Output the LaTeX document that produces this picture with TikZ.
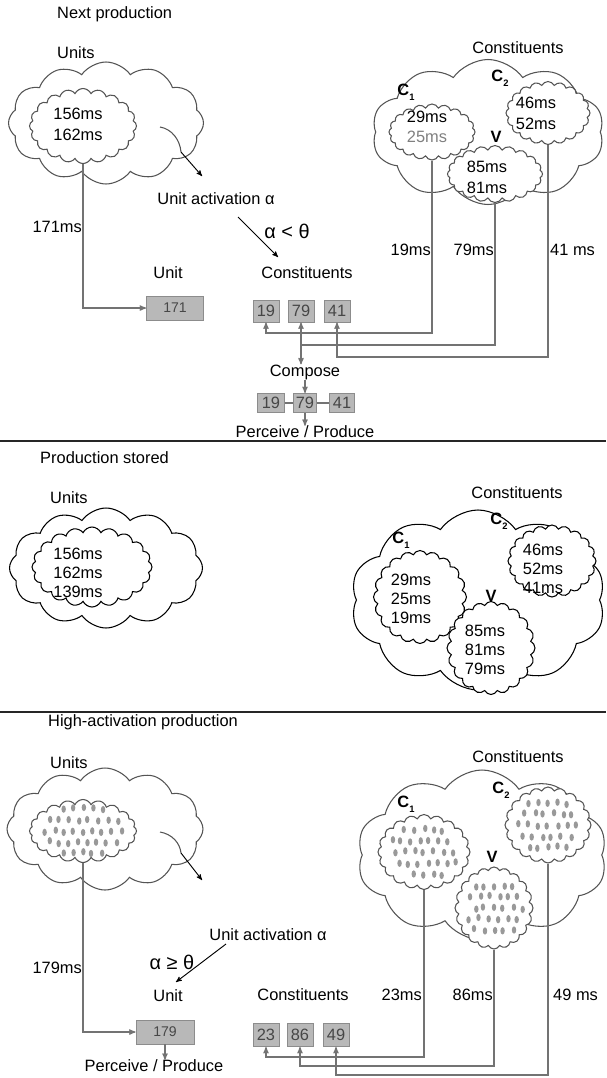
\documentclass[tikz,border=0pt]{standalone}
\usepackage{fontspec}
\setmainfont{Liberation Sans}
\usepackage{tikz}
\usetikzlibrary{shapes.symbols,arrows}

\definecolor{cloudline}{gray}{0.33}
\definecolor{linkgray}{gray}{0.45}
\definecolor{boxfill}{gray}{0.72}
\definecolor{boxedge}{gray}{0.55}
\definecolor{boxtext}{gray}{0.28}
\definecolor{dotgray}{gray}{0.6}

% constituent label with subscript
\newcommand{\clab}[1]{\textbf{C}\raisebox{-0.6ex}{\fontsize{8}{8}\selectfont\bfseries #1}}
% grey grains inside a cloud: centre x, centre y, half width, half height
\newcommand{\dotpatch}[4]{%
  \foreach \i in {-6,...,6}{
    \foreach \j in {-4,...,4}{
      \pgfmathsetmacro\dx{\i*9.5+mod(\j,2)*4+1.6*rand}
      \pgfmathsetmacro\dy{\j*11+1.6*rand}
      \pgfmathtruncatemacro\inside{((\dx/#3)*(\dx/#3)+(\dy/#4)*(\dy/#4)<1)?1:0}
      \ifnum\inside=1
        \fill[dotgray] (#1+\dx,#2+\dy) ellipse (0.066cm and 0.11cm);
      \fi
    }
  }
}

\begin{document}
\begin{tikzpicture}[
    x=0.03cm, y=-0.03cm,
    every node/.style={font=\fontsize{14}{18}\selectfont, inner sep=0pt, align=center},
    dims/.style 2 args={minimum width=#1*0.03cm, minimum height=#2*0.03cm},
    puffy/.style={cloud, cloud puffs=12, cloud puff arc=110, draw=cloudline, fill=white, line width=0.9pt},
    inner puffy/.style={cloud, cloud puffs=20, cloud puff arc=130, draw=cloudline, fill=white, line width=0.9pt},
    numbox/.style={draw=boxedge, fill=boxfill, text=boxtext, line width=0.8pt},
    link/.style={draw=linkgray, line width=1pt, ->, >=stealth'},
    plain link/.style={draw=linkgray, line width=1pt},
    pointer/.style={draw=black, line width=0.8pt, ->, >=stealth'},
    condition/.style={font=\fontsize{17}{20}\selectfont},
    divider/.style={line width=1.7pt, draw=black!85}
  ]
  \useasboundingbox (0,0) rectangle (606,1078);
  \pgfmathsetseed{7}

  % ---------------- Next production
  \node[anchor=west] (title1) at (57,14) {Next production};
  \node[anchor=west] (units1) at (57,53) {Units};
  \node[puffy, dims={195}{122}] (ucloud1) at (106,123) {};
  \node[inner puffy, dims={107}{75}] (uin1) at (83,126) {};
  \node (uval1) at (78,124) {156ms\\162ms};
  \draw[cloudline, line width=0.9pt] (160,127) .. controls (172,129) and (180,140) .. (181,152) coordinate (curl1);
  \coordinate (act1) at (202,176);
  \draw[pointer] (curl1) -- (act1);
  \node (acttext1) at (216,199) {Unit activation α};
  \coordinate (aa1) at (238,217);
  \coordinate (ab1) at (278,257);
  \draw[pointer] (aa1) -- (ab1);
  \node[condition] (cond1) at (287,231) {α < θ};
  \node (unitlbl1) at (168,273) {Unit};
  \node (conlbl1) at (307,273) {Constituents};
  \node[numbox, dims={57}{24}, font=\fontsize{12}{14}\selectfont] (u171) at (175,308) {171};
  \draw[link] (uin1.south) |- (u171.west);
  \node[anchor=east] (ms171) at (82,227) {171ms};

  \node (conhead1) at (518,48) {Constituents};
  \node[puffy, cloud puffs=10, dims={232}{145}] (ccloud1) at (488,132) {};
  \node[inner puffy, dims={86}{56}] (c1a) at (432,132) {};
  \node[inner puffy, dims={84}{63}] (c2a) at (548,113) {};
  \node[inner puffy, dims={95}{57}] (va) at (495,174) {};
  \node (c1val1) at (427,127) {29ms\\[-1pt]\textcolor{gray}{25ms}};
  \node (c2val1) at (536,113) {46ms\\52ms};
  \node (vval1) at (487,177) {85ms\\81ms};
  \node (c1lbl1) at (406,92) {\clab{1}};
  \node (c2lbl1) at (500,78) {\clab{2}};
  \node (vlbl1) at (496,137) {\textbf{V}};

  \node[numbox, dims={26}{22}] (b19) at (266,311) {19};
  \node[numbox, dims={26}{22}] (b79) at (301,311) {79};
  \node[numbox, dims={26}{22}] (b41) at (337,311) {41};
  \draw[link] (c1a.south) -- (c1a.south |- 0,333) -| (b19.south);
  \draw[link] (va.south) -- (va.south |- 0,345) -| (b79.south);
  \draw[link] (c2a.south) -- (c2a.south |- 0,357) -| (b41.south);
  \node[anchor=east] (ms19) at (431,250) {19ms};
  \node[anchor=east] (ms79) at (494,250) {79ms};
  \node[anchor=west] (ms41) at (550,250) {41 ms};

  \node (compose) at (305,372) {Compose};
  \draw[link] (b79.south |- 0,345) -- (b79.south |- compose.north);
  \node[numbox, dims={27}{19}] (b19c) at (271,403) {19};
  \node[numbox, dims={23}{19}] (b79c) at (305,403) {79};
  \node[numbox, dims={25}{19}] (b41c) at (342,403) {41};
  \draw[plain link] (b19c) -- (b79c);
  \draw[plain link] (b79c) -- (b41c);
  \draw[link] (compose.south) -- (b79c.north);
  \node (perceive1) at (305,432) {Perceive / Produce};
  \draw[link] (b79c.south) -- (perceive1.north);

  \draw[divider] (0,441) -- (606,441);

  % ---------------- Production stored
  \node[anchor=west] (title2) at (40,458) {Production stored};
  \node[anchor=west] (units2) at (50,498) {Units};
  \node[puffy, draw=black, dims={193}{120}] (ucloud2) at (106,568) {};
  \node[inner puffy, draw=black, dims={120}{80}] (uin2) at (92,567) {};
  \node (uval2) at (78,573) {156ms\\[-2pt]162ms\\[-2pt]139ms};

  \node (conhead2) at (517,493) {Constituents};
  \node[puffy, draw=black, cloud puffs=10, dims={255}{180}] (ccloud2) at (478,600) {};
  \node[inner puffy, draw=black, dims={93}{93}] (c1b) at (420,597) {};
  \node[inner puffy, draw=black, dims={88}{72}] (c2b) at (552,561) {};
  \node[inner puffy, draw=black, dims={88}{93}] (vb) at (491,648) {};
  \node (c1val2) at (411,599) {29ms\\[-2pt]25ms\\[-2pt]19ms};
  \node (c2val2) at (543,569) {46ms\\[-2pt]52ms\\[-2pt]41ms};
  \node (vval2) at (485,650) {85ms\\[-2pt]81ms\\[-2pt]79ms};
  \node (c1lbl2) at (401,540) {\clab{1}};
  \node (c2lbl2) at (499,521) {\clab{2}};
  \node (vlbl2) at (491,596) {\textbf{V}};

  \draw[divider] (0,712) -- (606,712);

  % ---------------- High-activation production
  \node[anchor=west] (title3) at (48,722) {High-activation production};
  \node[anchor=west] (units3) at (50,763) {Units};
  \node[puffy, dims={196}{122}] (ucloud3) at (105,829) {};
  \node[inner puffy, dims={107}{63}] (uin3) at (83,831) {};
  \dotpatch{83}{831}{46}{25}
  \draw[cloudline, line width=0.9pt] (160,832) .. controls (172,834) and (180,843) .. (181,853) coordinate (curl3);
  \coordinate (act3) at (202,880);
  \draw[pointer] (curl3) -- (act3);
  \node (acttext3) at (268,935) {Unit activation α};
  \coordinate (aa3) at (226,944);
  \coordinate (ab3) at (176,982);
  \draw[pointer] (aa3) -- (ab3);
  \node[condition] (cond3) at (172,962) {α ≥ θ};
  \node (unitlbl3) at (168,996) {Unit};
  \node[numbox, dims={58}{24}, font=\fontsize{12}{14}\selectfont] (u179) at (165,1032) {179};
  \draw[link] (uin3.south) |- (u179.west);
  \node[anchor=east] (ms179) at (82,968) {179ms};
  \node (perceive3) at (154,1066) {Perceive / Produce};
  \draw[link] (u179.south) -- (u179.south |- perceive3.north);

  \node (conhead3) at (518,757) {Constituents};
  \node[puffy, cloud puffs=10, dims={250}{170}] (ccloud3) at (482,855) {};
  \node[inner puffy, dims={92}{75}] (c1c) at (424,852) {};
  \node[inner puffy, dims={86}{76}] (c2c) at (548,825) {};
  \node[inner puffy, dims={78}{82}] (vc) at (494,908) {};
  \dotpatch{424}{852}{36}{28}
  \dotpatch{548}{825}{33}{28}
  \dotpatch{494}{908}{29}{31}
  \node (c1lbl3) at (406,804) {\clab{1}};
  \node (c2lbl3) at (501,790) {\clab{2}};
  \node (vlbl3) at (492,857) {\textbf{V}};

  \node (conlbl3) at (303,995) {Constituents};
  \node[numbox, dims={26}{23}] (b23) at (266,1035) {23};
  \node[numbox, dims={26}{23}] (b86) at (300,1035) {86};
  \node[numbox, dims={26}{23}] (b49) at (336,1035) {49};
  \draw[link] (c1c.south) -- (c1c.south |- 0,1057) -| (b23.south);
  \draw[link] (vc.south) -- (vc.south |- 0,1066) -| (b86.south);
  \draw[link] (c2c.south) -- (c2c.south |- 0,1075) -| (b49.south);
  \node[anchor=east] (ms23) at (422,995) {23ms};
  \node[anchor=east] (ms86) at (493,995) {86ms};
  \node[anchor=west] (ms49) at (553,995) {49 ms};
\end{tikzpicture}
\end{document}
